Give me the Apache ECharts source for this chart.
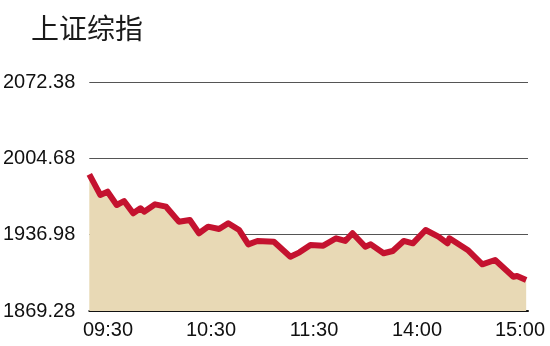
<!DOCTYPE html>
<html>
<head>
<meta charset="utf-8">
<script src="https://cdn.jsdelivr.net/npm/echarts@6/dist/echarts.min.js"></script>
<style>html,body{margin:0;padding:0;background:#fff;}#c{width:550px;height:346px;}</style>
</head>
<body>
<div id="c"></div>
<script>
// Trading minutes after 09:30 (240 = 15:00)
const times = [0,6,10,15,19,24,28,30,36,42,49,55,60,65,71,76,82,87,92,101,110,115,121,128,135,140,144,151,154,161,166,172,177,184,191,196,197,207,215,222,232,234,239];
const values = [1990.5,1972.2,1975.1,1963.3,1966.8,1955.9,1960.4,1957.4,1963.9,1961.8,1948.5,1950.0,1938.2,1944.1,1942.0,1947.1,1941.1,1928.4,1931.4,1930.7,1917.4,1921.3,1927.8,1927.2,1933.8,1931.4,1938.2,1926.3,1928.4,1920.5,1922.5,1931.4,1929.3,1941.1,1935.2,1929.3,1933.8,1923.4,1910.7,1914.5,1899.7,1900.3,1896.8];
const xTickLabels = ['09:30','10:30','11:30','14:00','15:00'];
const yTickLabels = ['1869.28','1936.98','2004.68','2072.38'];
const titleText = '上证综指';

const yMin = parseFloat(yTickLabels[0]);
const yMax = parseFloat(yTickLabels[yTickLabels.length - 1]);
const yInt = parseFloat(yTickLabels[1]) - yMin;

const chart = echarts.init(document.getElementById('c'), null, {renderer: 'canvas'});
chart.setOption({
  animation: false,
  backgroundColor: '#fff',
  title: {
    text: titleText, left: 26, top: 9,
    textStyle: {fontFamily: 'Noto Sans CJK SC', fontSize: 28, fontWeight: 'normal', color: '#1a1a1a'}
  },
  grid: [
    {left: 89, right: 22, top: 82, bottom: 35},
    {left: 108, right: 30, top: 82, bottom: 35}
  ],
  xAxis: [
    {
      type: 'value', gridIndex: 0, min: 0, max: 240,
      axisLine: {show: true, lineStyle: {color: '#111', width: 2}},
      axisTick: {show: false}, axisLabel: {show: false}, splitLine: {show: false}
    },
    {
      type: 'category', gridIndex: 1, data: xTickLabels, boundaryGap: false,
      axisLine: {show: false}, axisTick: {show: false}, splitLine: {show: false},
      axisLabel: {show: true, margin: 9, fontSize: 20, color: '#111', fontFamily: 'Liberation Sans', interval: 0}
    }
  ],
  yAxis: [
    {
      type: 'value', gridIndex: 0, min: yMin, max: yMax, interval: yInt,
      axisLine: {show: false}, axisTick: {show: false},
      splitLine: {show: true, lineStyle: {color: '#555', width: 1}},
      axisLabel: {
        margin: 14, fontSize: 20, color: '#111', fontFamily: 'Liberation Sans',
        formatter: v => v.toFixed(2)
      }
    },
    {
      type: 'value', gridIndex: 1, show: false, min: 0, max: 1
    }
  ],
  series: [{
    type: 'line', xAxisIndex: 0, yAxisIndex: 0,
    data: times.map((t, i) => [t, values[i]]),
    showSymbol: false, symbol: 'none',
    lineStyle: {color: '#c4122f', width: 6, join: 'round', cap: 'butt'},
    areaStyle: {color: '#e8d9b5', opacity: 1},
    z: 3
  }]
});
</script>
</body>
</html>
